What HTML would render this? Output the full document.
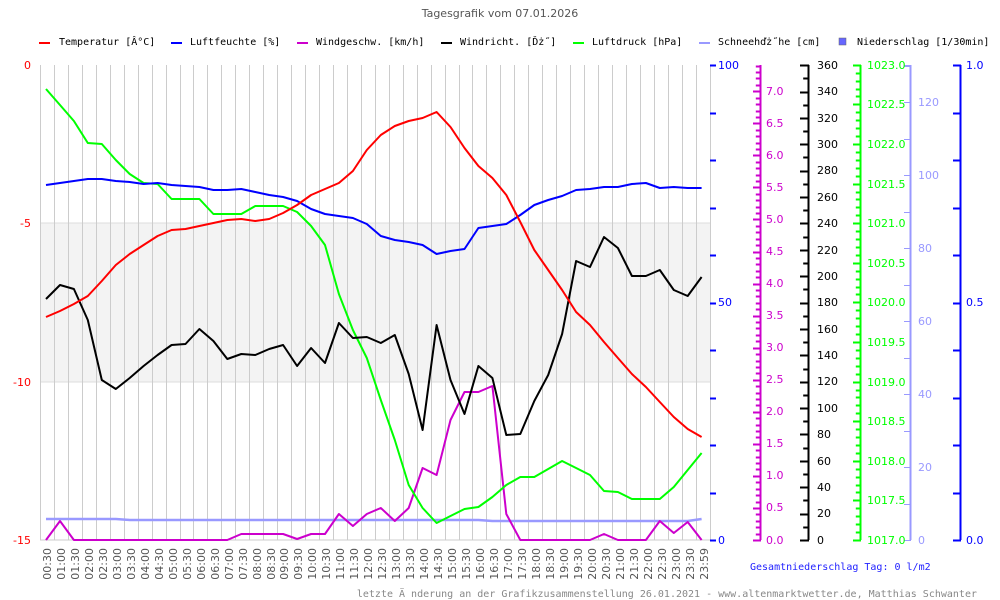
<!DOCTYPE html>
<html><head><meta charset="utf-8"><style>
body{margin:0;background:#fff}
svg{display:block}
.m{font-family:"DejaVu Sans Mono","Liberation Mono",monospace;font-size:10px}
.s{font-family:"DejaVu Sans","Liberation Sans",sans-serif;font-size:11px}
</style></head><body>
<svg id="c" width="1000" height="600" xmlns="http://www.w3.org/2000/svg">
<text x="500" y="17" text-anchor="middle" class="s" font-size="13" fill="#555">Tagesgrafik vom 07.01.2026</text>
<g class="m" fill="#000">
<rect x="39" y="42" width="11" height="2" fill="#f00"/><text x="59" y="45">Temperatur [Â°C]</text>
<rect x="171" y="42" width="11" height="2" fill="#00f"/><text x="190" y="45">Luftfeuchte [%]</text>
<rect x="297" y="42" width="11" height="2" fill="#c0c"/><text x="316" y="45">Windgeschw. [km/h]</text>
<rect x="441" y="42" width="11" height="2" fill="#000"/><text x="460" y="45">Windricht. [Ďż˝]</text>
<rect x="573" y="42" width="11" height="2" fill="#0f0"/><text x="592" y="45">Luftdruck [hPa]</text>
<rect x="699" y="42" width="11" height="2" fill="#99f"/><text x="718" y="45">Schneehďż˝he [cm]</text>
<rect x="839" y="38" width="7" height="7" fill="#66f" stroke="#666" stroke-width="0.5"/><text x="857" y="45">Niederschlag [1/30min]</text>
</g>
<rect x="40" y="223" width="670" height="159" fill="#f3f3f3"/>
<line x1="40" y1="223" x2="710" y2="223" stroke="#ddd"/><line x1="40" y1="382" x2="710" y2="382" stroke="#ddd"/>
<g id="grid" stroke="#ccc" stroke-width="1"></g>
<line x1="40" y1="540" x2="710" y2="540" stroke="#ccc"/>
<g class="s" fill="#f00" text-anchor="end">
<text x="31" y="69">0</text><text x="31" y="227">-5</text><text x="31" y="386">-10</text><text x="31" y="544">-15</text>
</g>
<g class="s" fill="#00f"><text x="718" y="69">100</text><text x="718" y="306">50</text><text x="718" y="544">0</text></g>
<g id="axes"></g>
<g class="s" fill="#c0c">
<text x="766" y="95">7.0</text><text x="766" y="127">6.5</text><text x="766" y="159">6.0</text><text x="766" y="191">5.5</text><text x="766" y="223">5.0</text><text x="766" y="255">4.5</text><text x="766" y="287">4.0</text><text x="766" y="319">3.5</text><text x="766" y="351">3.0</text><text x="766" y="383">2.5</text><text x="766" y="415">2.0</text><text x="766" y="447">1.5</text><text x="766" y="479">1.0</text><text x="766" y="511">0.5</text><text x="766" y="544">0.0</text>
</g>
<g class="s" fill="#000">
<text x="817" y="69">360</text><text x="817" y="95">340</text><text x="817" y="122">320</text><text x="817" y="148">300</text><text x="817" y="174">280</text><text x="817" y="201">260</text><text x="817" y="227">240</text><text x="817" y="254">220</text><text x="817" y="280">200</text><text x="817" y="306">180</text><text x="817" y="333">160</text><text x="817" y="359">140</text><text x="817" y="385">120</text><text x="817" y="412">100</text><text x="817" y="438">80</text><text x="817" y="465">60</text><text x="817" y="491">40</text><text x="817" y="517">20</text><text x="817" y="544">0</text>
</g>
<g class="s" fill="#0f0">
<text x="867" y="69">1023.0</text><text x="867" y="108">1022.5</text><text x="867" y="148">1022.0</text><text x="867" y="188">1021.5</text><text x="867" y="227">1021.0</text><text x="867" y="267">1020.5</text><text x="867" y="306">1020.0</text><text x="867" y="346">1019.5</text><text x="867" y="386">1019.0</text><text x="867" y="425">1018.5</text><text x="867" y="465">1018.0</text><text x="867" y="504">1017.5</text><text x="867" y="544">1017.0</text>
</g>
<g class="s" fill="#99f">
<text x="918" y="106">120</text><text x="918" y="179">100</text><text x="918" y="252">80</text><text x="918" y="325">60</text><text x="918" y="398">40</text><text x="918" y="471">20</text><text x="918" y="544">0</text>
</g>
<g class="s" fill="#00f"><text x="966" y="69">1.0</text><text x="966" y="306">0.5</text><text x="966" y="544">0.0</text></g>
<g id="series" fill="none" stroke-width="2" stroke-linejoin="round"></g>
<g class="s" fill="#555" id="tl">
<text transform="translate(51,548) rotate(-90)" text-anchor="end">00:30</text>
<text transform="translate(65,548) rotate(-90)" text-anchor="end">01:00</text>
<text transform="translate(79,548) rotate(-90)" text-anchor="end">01:30</text>
<text transform="translate(93,548) rotate(-90)" text-anchor="end">02:00</text>
<text transform="translate(107,548) rotate(-90)" text-anchor="end">02:30</text>
<text transform="translate(121,548) rotate(-90)" text-anchor="end">03:00</text>
<text transform="translate(135,548) rotate(-90)" text-anchor="end">03:30</text>
<text transform="translate(149,548) rotate(-90)" text-anchor="end">04:00</text>
<text transform="translate(163,548) rotate(-90)" text-anchor="end">04:30</text>
<text transform="translate(177,548) rotate(-90)" text-anchor="end">05:00</text>
<text transform="translate(191,548) rotate(-90)" text-anchor="end">05:30</text>
<text transform="translate(205,548) rotate(-90)" text-anchor="end">06:00</text>
<text transform="translate(219,548) rotate(-90)" text-anchor="end">06:30</text>
<text transform="translate(233,548) rotate(-90)" text-anchor="end">07:00</text>
<text transform="translate(247,548) rotate(-90)" text-anchor="end">07:30</text>
<text transform="translate(261,548) rotate(-90)" text-anchor="end">08:00</text>
<text transform="translate(275,548) rotate(-90)" text-anchor="end">08:30</text>
<text transform="translate(288,548) rotate(-90)" text-anchor="end">09:00</text>
<text transform="translate(302,548) rotate(-90)" text-anchor="end">09:30</text>
<text transform="translate(316,548) rotate(-90)" text-anchor="end">10:00</text>
<text transform="translate(330,548) rotate(-90)" text-anchor="end">10:30</text>
<text transform="translate(344,548) rotate(-90)" text-anchor="end">11:00</text>
<text transform="translate(358,548) rotate(-90)" text-anchor="end">11:30</text>
<text transform="translate(372,548) rotate(-90)" text-anchor="end">12:00</text>
<text transform="translate(386,548) rotate(-90)" text-anchor="end">12:30</text>
<text transform="translate(400,548) rotate(-90)" text-anchor="end">13:00</text>
<text transform="translate(414,548) rotate(-90)" text-anchor="end">13:30</text>
<text transform="translate(428,548) rotate(-90)" text-anchor="end">14:00</text>
<text transform="translate(442,548) rotate(-90)" text-anchor="end">14:30</text>
<text transform="translate(456,548) rotate(-90)" text-anchor="end">15:00</text>
<text transform="translate(470,548) rotate(-90)" text-anchor="end">15:30</text>
<text transform="translate(484,548) rotate(-90)" text-anchor="end">16:00</text>
<text transform="translate(498,548) rotate(-90)" text-anchor="end">16:30</text>
<text transform="translate(512,548) rotate(-90)" text-anchor="end">17:00</text>
<text transform="translate(526,548) rotate(-90)" text-anchor="end">17:30</text>
<text transform="translate(540,548) rotate(-90)" text-anchor="end">18:00</text>
<text transform="translate(554,548) rotate(-90)" text-anchor="end">18:30</text>
<text transform="translate(568,548) rotate(-90)" text-anchor="end">19:00</text>
<text transform="translate(582,548) rotate(-90)" text-anchor="end">19:30</text>
<text transform="translate(596,548) rotate(-90)" text-anchor="end">20:00</text>
<text transform="translate(610,548) rotate(-90)" text-anchor="end">20:30</text>
<text transform="translate(624,548) rotate(-90)" text-anchor="end">21:00</text>
<text transform="translate(638,548) rotate(-90)" text-anchor="end">21:30</text>
<text transform="translate(652,548) rotate(-90)" text-anchor="end">22:00</text>
<text transform="translate(666,548) rotate(-90)" text-anchor="end">22:30</text>
<text transform="translate(680,548) rotate(-90)" text-anchor="end">23:00</text>
<text transform="translate(694,548) rotate(-90)" text-anchor="end">23:30</text>
<text transform="translate(708,548) rotate(-90)" text-anchor="end">23:59</text>
</g>
<text x="750" y="570" class="m" fill="#22f">Gesamtniederschlag Tag: 0 l/m2</text>
<text x="977" y="597" text-anchor="end" class="m" fill="#888">letzte Ä nderung an der Grafikzusammenstellung 26.01.2021 - www.altenmarktwetter.de, Matthias Schwanter</text>
</svg>
<script>
var NS="http://www.w3.org/2000/svg";
function el(p,t,a){var e=document.createElementNS(NS,t);for(var k in a)e.setAttribute(k,a[k]);p.appendChild(e);return e;}
var g=document.getElementById('grid');
for(var k=0;k<=48;k++){var x=Math.round(40+k*13.95)+0.5;el(g,'line',{x1:x,y1:65,x2:x,y2:540});}
var ax=document.getElementById('axes');
function axis(x,col,y0,y1,step,majorEvery,len){
 el(ax,'line',{x1:x+.5,y1:y0,x2:x+.5,y2:y1,stroke:col,'stroke-width':2});
 var i=0;for(var y=y1;y>=y0-0.5;y-=step,i++){var L=(i%majorEvery==0)?len:len*0.6;el(ax,'line',{x1:x-L,y1:Math.round(y)+.5,x2:x+1,y2:Math.round(y)+.5,stroke:col,'stroke-width':2});}
}
for(var y=540;y>=65;y-=47.5)el(ax,'line',{x1:710,y1:Math.round(y)+.5,x2:716,y2:Math.round(y)+.5,stroke:'#00f','stroke-width':2});
axis(760,'#c0c',65,540,6.41,5,7);
axis(808,'#000',65,540,13.19,2,8);
axis(860,'#0f0',65,540,7.92,5,7);
el(ax,'line',{x1:910.5,y1:65,x2:910.5,y2:540,stroke:'#99f','stroke-width':2});
for(var y=540;y>=65;y-=36.5)el(ax,'line',{x1:904,y1:Math.round(y)+.5,x2:911,y2:Math.round(y)+.5,stroke:'#99f','stroke-width':1});
el(ax,'line',{x1:904,y1:65.5,x2:911,y2:65.5,stroke:'#99f'});
axis(960,'#00f',65,540,47.5,1,7);
var S=document.getElementById('series');
function X(i){return 46+i*13.95;}
function line(arr,col,w){var p=arr.map(function(v,i){return X(i).toFixed(1)+','+v;}).join(' ');el(S,'polyline',{points:p,stroke:col,'stroke-width':w||2});}
var snow=[];for(var i=0;i<48;i++){snow.push(i<6?519:(i<32?520:(i<47?521:519)));}
line(snow,'#99f',2.5);
line([540,521,540,540,540,540,540,540,540,540,540,540,540,540,534,534,534,534,539,534,534,514,526,514,508,521,508,468,475,420,392,392,386,514,540,540,540,540,540,540,534,540,540,540,521,533,522,540],'#c0c');
line([89,105,121,143,144,160,174,183,184,199,199,199,214,214,214,206,206,206,212,226,245,294,330,358,400,440,485,508,523,516,509,507,497,485,477,477,469,461,468,475,491,492,499,499,499,487,470,453],'#0f0');
line([299,285,289,320,380,389,378,366,355,345,344,329,341,359,354,355,349,345,366,348,363,323,338,337,343,335,374,430,325,380,414,366,378,435,434,401,375,334,261,267,237,248,276,276,270,290,296,277],'#000');
line([185,183,181,179,179,181,182,184,183,185,186,187,190,190,189,192,195,197,201,209,214,216,218,224,236,240,242,245,254,251,249,228,226,224,215,205,200,196,190,189,187,187,184,183,188,187,188,188],'#00f');
line([317,311,304,296,281,265,254,245,236,230,229,226,223,220,219,221,219,213,205,195,189,183,171,150,135,126,121,118,112,127,148,166,178,195,222,250,270,290,312,325,342,358,374,387,402,417,429,437],'#f00');
</script>
</body></html>
